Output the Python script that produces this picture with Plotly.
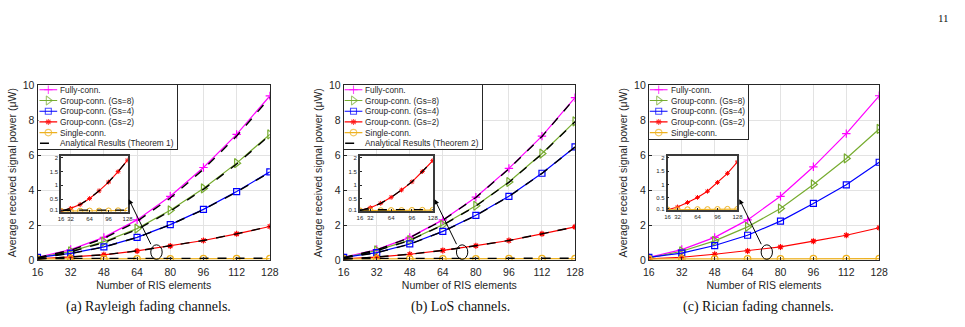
import plotly.graph_objects as go

W, H = 965, 327

# ---------------- data ----------------
ris_elements = [16, 32, 48, 64, 80, 96, 112, 128]
x_ticks = [16, 32, 48, 64, 80, 96, 112, 128]
inset_x_ticks = [16, 32, 64, 96, 128]
inset_y_ticks = [0.1, 0.5, 1, 1.5, 2]
inset_y_ticktext = ["0.1", "0.5", "1", "1.5", "2"]

# (a) Rayleigh fading channels
rayleigh_fully = [0.15, 0.6, 1.3, 2.3, 3.65, 5.3, 7.2, 9.4]
rayleigh_gs8 = [0.12, 0.5, 1.05, 1.8, 2.85, 4.1, 5.55, 7.2]
rayleigh_gs4 = [0.15, 0.38, 0.75, 1.3, 2.03, 2.9, 3.92, 5.05]
rayleigh_gs2 = [0.06, 0.16, 0.3, 0.52, 0.8, 1.12, 1.5, 1.92]
rayleigh_single = [0.06, 0.06, 0.065, 0.07, 0.07, 0.075, 0.08, 0.08]
rayleigh_theory_fully = [0.13, 0.56, 1.24, 2.22, 3.55, 5.2, 7.1, 9.3]
rayleigh_theory_gs8 = [0.1, 0.47, 1.0, 1.75, 2.8, 4.05, 5.5, 7.15]
rayleigh_theory_gs4 = [0.13, 0.37, 0.74, 1.29, 2.02, 2.89, 3.9, 5.03]
rayleigh_theory_gs2 = [0.06, 0.16, 0.3, 0.52, 0.8, 1.12, 1.5, 1.92]
rayleigh_theory_single = [0.09, 0.09, 0.09, 0.1, 0.1, 0.1, 0.1, 0.1]

# (b) LoS channels
los_fully = [0.15, 0.6, 1.3, 2.3, 3.6, 5.25, 7.1, 9.3]
los_gs8 = [0.12, 0.55, 1.14, 2.02, 3.11, 4.47, 6.1, 7.94]
los_gs4 = [0.15, 0.42, 0.92, 1.64, 2.56, 3.65, 4.97, 6.48]
los_gs2 = [0.06, 0.17, 0.33, 0.55, 0.82, 1.12, 1.5, 1.9]
los_single = [0.06, 0.06, 0.065, 0.07, 0.07, 0.075, 0.08, 0.08]
los_theory_fully = [0.14, 0.58, 1.28, 2.28, 3.58, 5.22, 7.08, 9.28]
los_theory_gs8 = [0.11, 0.53, 1.12, 2.0, 3.09, 4.45, 6.08, 7.92]
los_theory_gs4 = [0.14, 0.41, 0.91, 1.63, 2.55, 3.64, 4.96, 6.47]
los_theory_gs2 = [0.06, 0.17, 0.33, 0.55, 0.82, 1.12, 1.5, 1.9]
los_theory_single = [0.09, 0.09, 0.09, 0.1, 0.1, 0.1, 0.1, 0.1]

# (c) Rician fading channels
rician_fully = [0.15, 0.6, 1.3, 2.3, 3.65, 5.34, 7.24, 9.41]
rician_gs8 = [0.12, 0.5, 1.1, 1.9, 2.95, 4.33, 5.82, 7.51]
rician_gs4 = [0.15, 0.4, 0.83, 1.42, 2.23, 3.24, 4.31, 5.6]
rician_gs2 = [0.06, 0.16, 0.33, 0.52, 0.75, 1.08, 1.42, 1.85]
rician_single = [0.06, 0.06, 0.065, 0.07, 0.07, 0.075, 0.08, 0.08]

# ---------------- styling ----------------
AX = "#262626"
GRID = "#e3e3e3"
C_FULLY = "#ff00ff"
C_GS8 = "#77ac30"
C_GS4 = "#0000ff"
C_GS2 = "#ff0000"
C_SINGLE = "#edb120"
SANS = "Liberation Sans, Arial, sans-serif"
SERIF = "Liberation Serif, Times New Roman, serif"

def fx(px):
    return px / W

def fy(py):
    return 1 - py / H

series_style = [
    ("Fully-conn.", C_FULLY, "cross-thin-open", 6),
    ("Group-conn. (Gs=8)", C_GS8, "triangle-right-open", 8),
    ("Group-conn. (Gs=4)", C_GS4, "square-open", 6),
    ("Group-conn. (Gs=2)", C_GS2, "asterisk-open", 5),
    ("Single-conn.", C_SINGLE, "circle-open", 6.5),
]

panels = [
    dict(
        sim=[rayleigh_fully, rayleigh_gs8, rayleigh_gs4, rayleigh_gs2, rayleigh_single],
        theory=[rayleigh_theory_fully, rayleigh_theory_gs8, rayleigh_theory_gs4,
                rayleigh_theory_gs2, rayleigh_theory_single],
        theory_name="Analytical Results (Theorem 1)",
        box=(32, 268), inset=(56, 123.5, 156, 213.5), legend=(33, 174, 82, 148),
        caption="(a) Rayleigh fading channels.", cap_x=145,
    ),
    dict(
        sim=[los_fully, los_gs8, los_gs4, los_gs2, los_single],
        theory=[los_theory_fully, los_theory_gs8, los_theory_gs4,
                los_theory_gs2, los_theory_single],
        theory_name="Analytical Results (Theorem 2)",
        box=(343, 578), inset=(359.5, 433.5, 156, 213), legend=(343, 484, 82, 148),
        caption="(b) LoS channels.", cap_x=462,
    ),
    dict(
        sim=[rician_fully, rician_gs8, rician_gs4, rician_gs2, rician_single],
        theory=None,
        theory_name=None,
        box=(653, 887), inset=(672, 743, 156, 212), legend=(653, 754, 82, 138),
        caption="(c) Rician fading channels.", cap_x=764,
    ),
]

PLOT_TOP, PLOT_BOT = 82.5, 263.7

fig = go.Figure()
layout = dict(
    width=W, height=H, margin=dict(l=0, r=0, t=0, b=0),
    paper_bgcolor="white", plot_bgcolor="white", showlegend=False,
    font=dict(family=SANS, color=AX),
)
annotations = []
shapes = []

for i, p in enumerate(panels):
    main_id = "" if i == 0 else str(i + 1)
    ins_id = str(i + 4)
    leg_id = str(i + 7)
    xm, ym = "x" + main_id, "y" + main_id
    xi, yi = "x" + ins_id, "y" + ins_id
    xl, yl = "x" + leg_id, "y" + leg_id

    # ---- main axes ----
    layout["xaxis" + main_id] = dict(
        domain=[fx(p["box"][0]), fx(p["box"][1])], anchor=ym,
        range=[16, 128], tickvals=x_ticks, showgrid=True, gridcolor=GRID,
        showline=True, mirror=True, linecolor=AX, linewidth=1,
        ticks="inside", ticklen=3, tickcolor=AX, zeroline=False,
        tickfont=dict(size=10.5, color=AX), ticklabelstandoff=2,
        title=dict(text="Number of RIS elements", font=dict(size=10.5, color=AX), standoff=5),
    )
    layout["yaxis" + main_id] = dict(
        domain=[fy(PLOT_BOT), fy(PLOT_TOP)], anchor=xm,
        range=[0, 10], tickvals=[0, 2, 4, 6, 8, 10], showgrid=True, gridcolor=GRID,
        showline=True, mirror=True, linecolor=AX, linewidth=1,
        ticks="inside", ticklen=3, tickcolor=AX, zeroline=False,
        tickfont=dict(size=10.5, color=AX),
        title=dict(text="Average received signal power (μW)", font=dict(size=10.5, color=AX), standoff=4),
    )

    for (name, color, sym, size), vals in zip(series_style, p["sim"]):
        fig.add_trace(go.Scatter(
            x=ris_elements, y=vals, xaxis=xm, yaxis=ym, mode="lines+markers", name=name,
            line=dict(color=color, width=1.2),
            marker=dict(symbol=sym, size=size, color=color, line=dict(color=color, width=1.2)),
        ))
    if p["theory"]:
        for vals in p["theory"]:
            fig.add_trace(go.Scatter(
                x=ris_elements, y=vals, xaxis=xm, yaxis=ym, mode="lines",
                name=p["theory_name"], line=dict(color="black", width=1.4, dash="dash"),
            ))

    # ---- inset axes ----
    ix0, ix1, iy0, iy1 = p["inset"]
    layout["xaxis" + ins_id] = dict(
        domain=[fx(ix0), fx(ix1)], anchor=yi, range=[16, 128], tickvals=inset_x_ticks,
        showgrid=False, showline=True, mirror=True, linecolor="#3a3a3a", linewidth=1.5,
        ticks="inside", ticklen=2, tickcolor=AX, zeroline=False,
        tickfont=dict(size=6, color=AX),
    )
    layout["yaxis" + ins_id] = dict(
        domain=[fy(iy1), fy(iy0)], anchor=xi, range=[0.04, 2.06],
        tickvals=inset_y_ticks, ticktext=inset_y_ticktext,
        showgrid=False, showline=True, mirror=True, linecolor="#3a3a3a", linewidth=1.5,
        ticks="inside", ticklen=2, tickcolor=AX, zeroline=False,
        tickfont=dict(size=6, color=AX),
    )
    for (name, color, sym, size), vals in list(zip(series_style, p["sim"]))[3:]:
        fig.add_trace(go.Scatter(
            x=ris_elements, y=vals, xaxis=xi, yaxis=yi, mode="lines+markers",
            line=dict(color=color, width=1.1),
            marker=dict(symbol=sym, size=size - 1, color=color, line=dict(color=color, width=1)),
        ))
    if p["theory"]:
        for vals in p["theory"][3:]:
            fig.add_trace(go.Scatter(
                x=ris_elements, y=vals, xaxis=xi, yaxis=yi, mode="lines",
                line=dict(color="black", width=1.3, dash="dash"),
            ))

    # ---- legend box (custom, compact) ----
    lx0, lx1, ly0, ly1 = p["legend"]
    lw, lh = lx1 - lx0, ly1 - ly0
    layout["xaxis" + leg_id] = dict(
        domain=[fx(lx0), fx(lx1)], anchor=yl, range=[0, lw], visible=True,
        showgrid=False, zeroline=False, showticklabels=False, ticks="",
        showline=True, mirror=True, linecolor=AX, linewidth=1,
    )
    layout["yaxis" + leg_id] = dict(
        domain=[fy(ly1), fy(ly0)], anchor=xl, range=[lh, 0],
        showgrid=False, zeroline=False, showticklabels=False, ticks="",
        showline=True, mirror=True, linecolor=AX, linewidth=1,
    )
    entries = [(n, c, s, sz) for (n, c, s, sz) in series_style]
    if p["theory_name"]:
        entries.append((p["theory_name"], "black", None, 0))
    for k, (name, color, sym, size) in enumerate(entries):
        row_y = 5.0 + 11.1 * k
        if sym is None:
            fig.add_trace(go.Scatter(
                x=[1.5, 18.5], y=[row_y, row_y], xaxis=xl, yaxis=yl, mode="lines",
                line=dict(color=color, width=1.4, dash="dash"), hoverinfo="skip",
            ))
        else:
            fig.add_trace(go.Scatter(
                x=[1, 10, 19], y=[row_y, row_y, row_y], xaxis=xl, yaxis=yl, mode="lines+markers",
                line=dict(color=color, width=1.1),
                marker=dict(symbol=sym, size=[0, size, 0], color=color,
                            line=dict(color=color, width=1.1)),
                hoverinfo="skip",
            ))
        annotations.append(dict(
            x=20.0, y=row_y, xref=xl, yref=yl, text=name, showarrow=False,
            xanchor="left", yanchor="middle", font=dict(size=8.3, color=AX, family=SANS),
        ))

    # ---- ellipse and arrow pointing to the inset ----
    shapes.append(dict(
        type="circle", xref=xm, yref=ym, x0=70.6, x1=76.1, y0=0.04, y1=0.87,
        line=dict(color="black", width=1),
    ))
    annotations.append(dict(
        x=60, y=3.48, xref=xm, yref=ym, ax=71, ay=0.82, axref=xm, ayref=ym,
        showarrow=True, arrowhead=2, arrowsize=1, arrowwidth=1, arrowcolor="black", text="",
    ))

    # ---- caption ----
    annotations.append(dict(
        x=fx(p["cap_x"]), y=fy(312), xref="paper", yref="paper", text=p["caption"],
        showarrow=False, xanchor="center", yanchor="middle",
        font=dict(size=14, color="#111111", family=SERIF),
    ))

# page number
annotations.append(dict(
    x=fx(952), y=fy(12), xref="paper", yref="paper", text="11", showarrow=False,
    xanchor="center", yanchor="middle", font=dict(size=11, color="#111111", family=SERIF),
))

layout["annotations"] = annotations
layout["shapes"] = shapes
fig.update_layout(**layout)
fig.write_html("out.html")
